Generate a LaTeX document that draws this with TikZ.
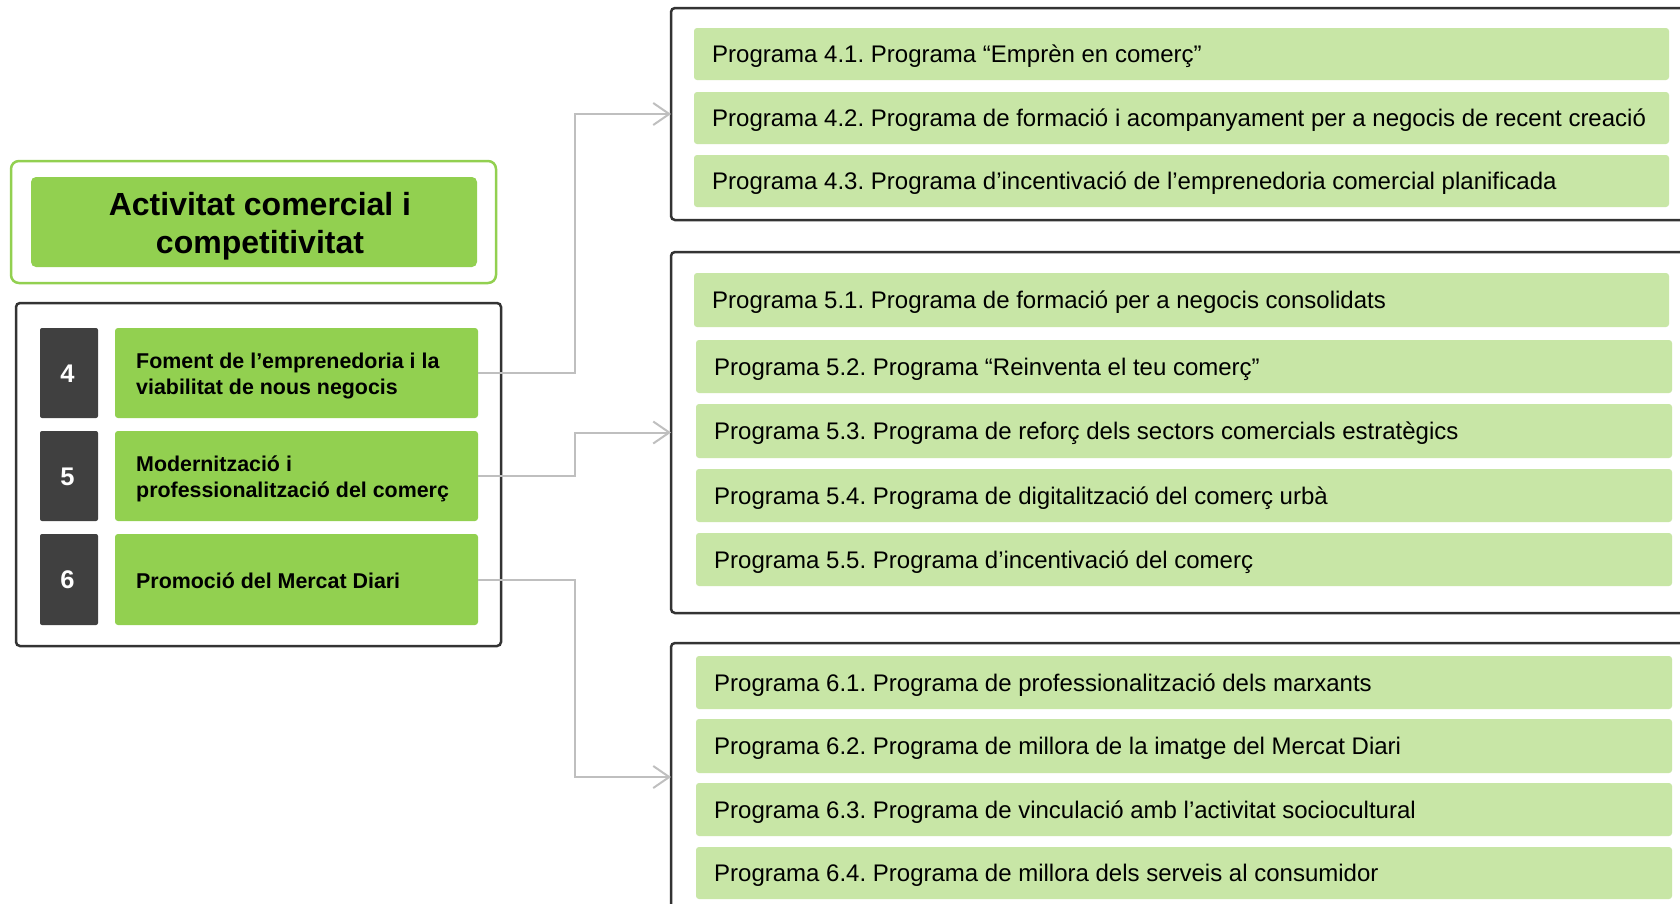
\documentclass[tikz,border=0pt]{standalone}
\usepackage{fontspec}
\setmainfont{Liberation Sans}
\usetikzlibrary{arrows.meta}
\definecolor{tgreen}{HTML}{92D050}
\definecolor{lgreen}{HTML}{C8E6A6}
\definecolor{dgray}{HTML}{404040}
\definecolor{framec}{HTML}{333333}
\definecolor{conn}{HTML}{BFBFBF}
\frenchspacing
\begin{document}
\frenchspacing
\begin{tikzpicture}[x=1pt,y=-1pt,
  box/.style={anchor=north west, inner sep=0pt, outer sep=0pt},
  frame/.style={box, draw=framec, line width=2.5pt, rounded corners=4pt, fill=white},
  prog/.style={box, fill=lgreen, rounded corners=3pt},
  progtext/.style={anchor=west, inner sep=0pt, font=\fontsize{24}{27}\selectfont, text height=17.2pt, text depth=0pt, xshift=18pt},
  numbox/.style={box, fill=dgray, rounded corners=2pt, minimum width=58pt, minimum height=90pt},
  numtext/.style={text=white, font=\bfseries\fontsize{25.5}{30}\selectfont, text height=18.2pt, text depth=0pt, inner sep=0pt, xshift=-1.5pt},
  axbox/.style={box, fill=tgreen, rounded corners=3pt, minimum width=363pt, minimum height=90pt},
  axtext/.style={anchor=west, align=left, inner sep=0pt, yshift=-3pt, font=\bfseries\fontsize{21.4}{26}\selectfont},
  connector/.style={draw=conn, line width=2pt, -{Straight Barb[length=16pt,width=22pt,line width=2pt]}}
]
\useasboundingbox (0,0) rectangle (1680,903);
\clip (0,0) rectangle (1680,903);

% left side
\node[box, draw=tgreen, line width=2.5pt, rounded corners=8pt, minimum width=485pt, minimum height=122pt] (outer) at (11,161) {};
\node[box, fill=tgreen, rounded corners=5pt, minimum width=446pt, minimum height=90pt] (titlebg) at (31,177) {};
\node[align=center, xshift=6pt, yshift=-4pt, font=\bfseries\fontsize{32}{38}\selectfont] (title) at (titlebg.center) {Activitat comercial i\\competitivitat};

\node[frame, minimum width=485pt, minimum height=343pt] (axframe) at (16,303) {};
\node[numbox] (n4) at (40,328) {};
\node[numtext] (l4) at (n4.center) {4};
\node[numbox] (n5) at (40,431) {};
\node[numtext] (l5) at (n5.center) {5};
\node[numbox, minimum height=91pt] (n6) at (40,534) {};
\node[numtext] (l6) at (n6.center) {6};

\node[axbox] (g4) at (115,328) {};
\node[axtext] (t4) at (136,373) {Foment de l’emprenedoria i la\\viabilitat de nous negocis};
\node[axbox] (g5) at (115,431) {};
\node[axtext] (t5) at (136,476) {Modernització i\\professionalització del comerç};
\node[axbox, minimum height=91pt] (g6) at (115,534) {};
\node[axtext, yshift=2pt] (t6) at (136,580) {Promoció del Mercat Diari};

% right frames
\node[frame, minimum width=1040pt, minimum height=212pt] (f4) at (671,8) {};
\node[frame, minimum width=1040pt, minimum height=361pt] (f5) at (671,252) {};
\node[frame, minimum width=1040pt, minimum height=268pt] (f6) at (671,643) {};

% programs 4
\node[prog, minimum width=975pt, minimum height=52pt] (p41) at (694,28) {};
\node[progtext] at (p41.west) {Programa 4.1. Programa “Emprèn en comerç”};
\node[prog, minimum width=975pt, minimum height=52pt] (p42) at (694,92) {};
\node[progtext] at (p42.west) {Programa 4.2. Programa de formació i acompanyament per a negocis de recent creació};
\node[prog, minimum width=975pt, minimum height=52pt] (p43) at (694,155) {};
\node[progtext] at (p43.west) {Programa 4.3. Programa d’incentivació de l’emprenedoria comercial planificada};

% programs 5
\node[prog, minimum width=975pt, minimum height=54pt] (p51) at (694,273) {};
\node[progtext] at (p51.west) {Programa 5.1. Programa de formació per a negocis consolidats};
\node[prog, minimum width=976pt, minimum height=53pt] (p52) at (696,340) {};
\node[progtext] at (p52.west) {Programa 5.2. Programa “Reinventa el teu comerç”};
\node[prog, minimum width=976pt, minimum height=54pt] (p53) at (696,404) {};
\node[progtext] at (p53.west) {Programa 5.3. Programa de reforç dels sectors comercials estratègics};
\node[prog, minimum width=976pt, minimum height=53pt] (p54) at (696,469) {};
\node[progtext] at (p54.west) {Programa 5.4. Programa de digitalització del comerç urbà};
\node[prog, minimum width=976pt, minimum height=53pt] (p55) at (696,533) {};
\node[progtext] at (p55.west) {Programa 5.5. Programa d’incentivació del comerç};

% programs 6
\node[prog, minimum width=976pt, minimum height=53pt] (p61) at (696,656) {};
\node[progtext] at (p61.west) {Programa 6.1. Programa de professionalització dels marxants};
\node[prog, minimum width=976pt, minimum height=54pt] (p62) at (696,719) {};
\node[progtext] at (p62.west) {Programa 6.2. Programa de millora de la imatge del Mercat Diari};
\node[prog, minimum width=976pt, minimum height=53pt] (p63) at (696,783) {};
\node[progtext] at (p63.west) {Programa 6.3. Programa de vinculació amb l’activitat sociocultural};
\node[prog, minimum width=976pt, minimum height=52pt] (p64) at (696,847) {};
\node[progtext] at (p64.west) {Programa 6.4. Programa de millora dels serveis al consumidor};

% connectors
\coordinate (jx) at (575,0);
\draw[connector] (g4.east) -- (g4.east -| jx) |- (f4.west);
\draw[connector] (g5.east) -- (g5.east -| jx) |- (f5.west);
\draw[connector] (g6.east) -- (g6.east -| jx) |- (f6.west);
\end{tikzpicture}
\end{document}
